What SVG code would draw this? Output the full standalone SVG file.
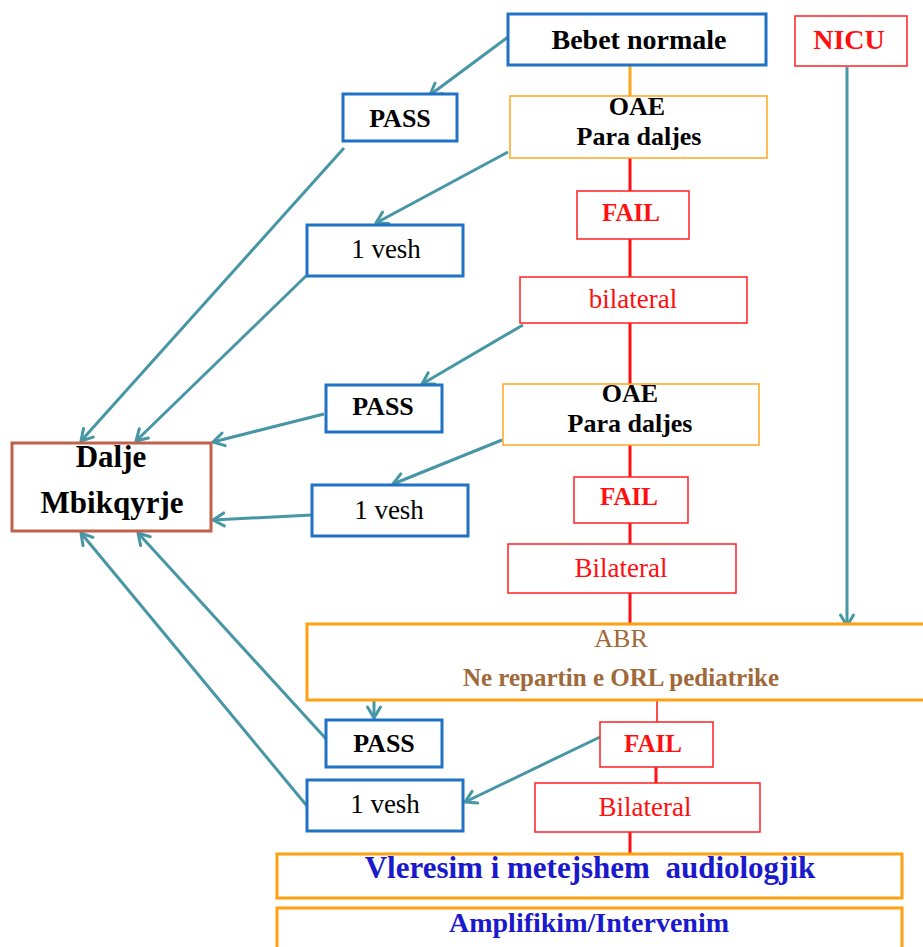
<svg xmlns="http://www.w3.org/2000/svg" width="923" height="947" viewBox="0 0 923 947">
<style>
text{font-family:"Liberation Serif","Times New Roman",serif;text-anchor:middle;white-space:pre}
.b{font-weight:bold}
.blue{fill:#fff;stroke:#1F72C4;stroke-width:3}
.red{fill:#fff;stroke:#FF2020;stroke-width:1.5}
.org{fill:#fff;stroke:#FFA51E;stroke-width:1.5}
.orgT{fill:#fff;stroke:#FFA010;stroke-width:3}
.conn{stroke:#4796A6;stroke-width:3;fill:none}
.rl{stroke:#FF1010;stroke-width:3}
.rt{fill:#FF1010}
</style>
<defs>
<marker id="ah" viewBox="0 0 14 14" refX="12" refY="7" markerWidth="14" markerHeight="14" markerUnits="userSpaceOnUse" orient="auto" overflow="visible">
<path d="M1,0.5 L12,7 L1,13.5" fill="none" stroke="#4796A6" stroke-width="3" stroke-linecap="round" stroke-linejoin="round"/>
</marker>
</defs>
<g id="connectors">
<line x1="630" y1="65" x2="630" y2="96" stroke="#FFA51E" stroke-width="3"/>
<line class="rl" x1="630" y1="158" x2="630" y2="191"/>
<line class="rl" x1="630" y1="239" x2="630" y2="277"/>
<line class="rl" x1="630" y1="323" x2="630" y2="384"/>
<line class="rl" x1="630" y1="445" x2="630" y2="477"/>
<line class="rl" x1="630" y1="523" x2="630" y2="544"/>
<line class="rl" x1="630" y1="593" x2="630" y2="624"/>
<line x1="657" y1="700" x2="657" y2="722" stroke="#FF1010" stroke-width="1.5"/>
<line class="rl" x1="656" y1="767" x2="656" y2="783"/>
<line class="rl" x1="630" y1="832" x2="630" y2="854"/>
<line class="conn" x1="847" y1="67" x2="847" y2="626" marker-end="url(#ah)"/>
<line class="conn" x1="508" y1="37" x2="430" y2="95" marker-end="url(#ah)"/>
<line class="conn" x1="344" y1="148" x2="81" y2="441" marker-end="url(#ah)"/>
<line class="conn" x1="508" y1="152" x2="376" y2="223" marker-end="url(#ah)"/>
<line class="conn" x1="306" y1="276" x2="136" y2="441" marker-end="url(#ah)"/>
<line class="conn" x1="523" y1="325" x2="422" y2="384" marker-end="url(#ah)"/>
<line class="conn" x1="324" y1="414" x2="213" y2="442" marker-end="url(#ah)"/>
<line class="conn" x1="502" y1="440" x2="393" y2="484" marker-end="url(#ah)"/>
<line class="conn" x1="312" y1="515" x2="213" y2="520" marker-end="url(#ah)"/>
<line class="conn" x1="374" y1="700" x2="374" y2="718" marker-end="url(#ah)"/>
<line class="conn" x1="328" y1="741" x2="138" y2="533" marker-end="url(#ah)"/>
<line class="conn" x1="307" y1="806" x2="81" y2="533" marker-end="url(#ah)"/>
<line class="conn" x1="600" y1="737" x2="465" y2="802" marker-end="url(#ah)"/>
</g>
<g id="bebet"><rect class="blue" x="508" y="14" width="258" height="51"/><text class="b" x="639" y="49" font-size="28">Bebet normale</text></g>
<g id="nicu"><rect class="red" x="795" y="16" width="112" height="50"/><text class="b rt" x="849" y="49" font-size="28">NICU</text></g>
<g id="pass1"><rect class="blue" x="343" y="94" width="114" height="47"/><text class="b" x="400" y="127" font-size="26">PASS</text></g>
<g id="oae1"><rect class="org" x="510" y="96" width="257" height="62"/><text class="b" x="637" y="115" font-size="26">OAE</text><text class="b" x="639" y="145" font-size="26">Para daljes</text></g>
<g id="fail1"><rect class="red" x="577" y="191" width="112" height="48"/><text class="b rt" x="631" y="221" font-size="25">FAIL</text></g>
<g id="vesh1"><rect class="blue" x="307" y="225" width="156" height="51"/><text x="386" y="258" font-size="27">1 vesh</text></g>
<g id="bilateral1"><rect class="red" x="520" y="277" width="227" height="46"/><text class="rt" x="633" y="308" font-size="27">bilateral</text></g>
<g id="pass2"><rect class="blue" x="326" y="385" width="116" height="47"/><text class="b" x="383" y="415" font-size="26">PASS</text></g>
<g id="oae2"><rect class="org" x="503" y="384" width="256" height="61"/><text class="b" x="630" y="402" font-size="26">OAE</text><text class="b" x="630" y="432" font-size="26">Para daljes</text></g>
<g id="dalje"><rect x="12" y="443" width="199" height="88" fill="#fff" stroke="#C0614A" stroke-width="3"/><text class="b" x="111" y="467" font-size="31">Dalje</text><text class="b" x="112" y="513" font-size="31">Mbikqyrje</text></g>
<g id="vesh2"><rect class="blue" x="312" y="485" width="156" height="51"/><text x="389" y="519" font-size="27">1 vesh</text></g>
<g id="fail2"><rect class="red" x="574" y="477" width="114" height="46"/><text class="b rt" x="629" y="505" font-size="25">FAIL</text></g>
<g id="bilateral2"><rect class="red" x="508" y="544" width="228" height="49"/><text class="rt" x="621" y="577" font-size="27">Bilateral</text></g>
<g id="abr"><rect class="orgT" x="307" y="624" width="620" height="76"/><text x="621" y="647" font-size="26" fill="#A0693A">ABR</text><text class="b" x="621" y="686" font-size="25" fill="#A0693A">Ne repartin e ORL pediatrike</text></g>
<g id="pass3"><rect class="blue" x="326" y="720" width="116" height="47"/><text class="b" x="384" y="752" font-size="26">PASS</text></g>
<g id="fail3"><rect class="red" x="600" y="722" width="113" height="45"/><text class="b rt" x="653" y="752" font-size="25">FAIL</text></g>
<g id="vesh3"><rect class="blue" x="307" y="780" width="156" height="51"/><text x="385" y="813" font-size="27">1 vesh</text></g>
<g id="bilateral3"><rect class="red" x="535" y="783" width="225" height="49"/><text class="rt" x="645" y="816" font-size="27">Bilateral</text></g>
<g id="vleresim"><rect class="orgT" x="277" y="854" width="625" height="44"/><text class="b" x="590" y="878" font-size="31" fill="#1A1ACC">Vleresim i metejshem  audiologjik</text></g>
<g id="amplifikim"><rect class="orgT" x="277" y="908" width="625" height="44"/><text class="b" x="589" y="932" font-size="28" fill="#1A1ACC">Amplifikim/Intervenim</text></g>
</svg>
